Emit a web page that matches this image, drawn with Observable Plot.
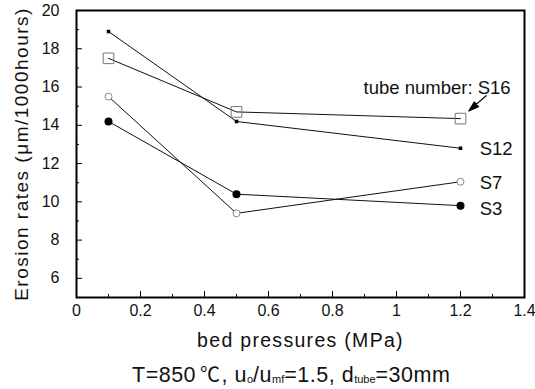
<!DOCTYPE html>
<html>
<head>
<meta charset="utf-8">
<script src="https://cdn.jsdelivr.net/npm/d3@7"></script>
<script src="https://cdn.jsdelivr.net/npm/@observablehq/plot@0.6"></script>
<style>
  body { margin: 0; background: white; font-family: "Liberation Sans", Arial, sans-serif; }
  #chart svg { display: block; }
  .cap { width: 535px; white-space: nowrap; padding-left: 132px; box-sizing: border-box; font-size: 21.5px; line-height: 24px; color: #111; margin-top: 6px; letter-spacing: 0.5px; }
  .cap sub { font-size: 11px; vertical-align: baseline; position: relative; top: 1px; letter-spacing: 0; }
  .cap .deg { font-family: "Noto Sans CJK SC", sans-serif; font-size: 20px; margin-left: 4px; margin-right: 1px; }
</style>
</head>
<body>
<div id="chart"></div>
<div class="cap">T=850<span class="deg">℃</span>, u<sub>o</sub>/u<sub>mf</sub>=1.5, d<sub>tube</sub>=30mm</div>
<script>
const pressures = [0.1, 0.5, 1.2];
const seriesNames = ["S16", "S12", "S7", "S3"];
const s16 = [17.5, 14.7, 14.35];
const s12 = [18.9, 14.2, 12.8];
const s7 = [15.5, 9.4, 11.05];
const s3 = [14.2, 10.4, 9.8];
const xTicks = [0, 0.2, 0.4, 0.6, 0.8, 1, 1.2, 1.4];
const xTickLabels = ["0", "0.2", "0.4", "0.6", "0.8", "1", "1.2", "1.4"];
const xMinor = [0.1, 0.3, 0.5, 0.7, 0.9, 1.1, 1.3];
const yTicks = [6, 8, 10, 12, 14, 16, 18, 20];
const yMinor = [7, 9, 11, 13, 15, 17, 19];
const xTitle = "bed pressures (MPa)";
const yTitle = "Erosion rates (μm/1000hours)";
const labelText = ["tube number: S16", "S12", "S7", "S3"];
const labelX = [0.897, 1.26, 1.26, 1.26];
const labelY = [15.95, 12.75, 11.0, 9.6];
const arrowTip = {x: 1.226, y: 14.75};

const valuesBySeries = {S16: s16, S12: s12, S7: s7, S3: s3};
const data = seriesNames.flatMap(s => pressures.map((p, i) => ({series: s, x: p, y: valuesBySeries[s][i]})));
const labels = labelText.map((t, i) => ({t, x: labelX[i], y: labelY[i]}));
const by = s => data.filter(d => d.series === s);

const arrowShape = {
  draw(context, l) {
    context.moveTo(0, 0);
    context.lineTo(0, -l + 8);
    context.moveTo(0, -l);
    context.lineTo(-3.2, -l + 10);
    context.lineTo(3.2, -l + 10);
    context.closePath();
  }
};

const font = "Liberation Sans, Arial, sans-serif";
const chart = Plot.plot({
  width: 535,
  height: 356,
  marginLeft: 76,
  marginRight: 11,
  marginTop: 10,
  marginBottom: 59,
  style: {fontFamily: font, color: "#111", background: "white"},
  x: {domain: [0, 1.4]},
  y: {domain: [5, 20]},
  marks: [
    Plot.axisX(xTicks, {tickSize: 0, tickPadding: 7, fontSize: 16, tickFormat: (d, i) => xTickLabels[i], label: null}),
    Plot.axisY(yTicks, {tickSize: 0, tickPadding: 17, fontSize: 16, label: null}),
    Plot.text([xTitle], {frameAnchor: "bottom", dy: 43, text: d => d, fontSize: 19.5, textAnchor: "middle", lineAnchor: "middle", fill: "#111"}),
    Plot.text([yTitle], {frameAnchor: "left", dx: -55, rotate: -90, text: d => d, fontSize: 19, textAnchor: "middle", lineAnchor: "middle", fill: "#111"}),
    Plot.ruleX(xTicks.slice(1, -1), {y1: 5, y2: 5 + 6 / 19.05, stroke: "black", strokeWidth: 1}),
    Plot.ruleX(xMinor, {y1: 5, y2: 5 + 3 / 19.05, stroke: "black", strokeWidth: 1}),
    Plot.ruleY(yTicks.slice(0, -1), {x1: 0, x2: 6 / 320, stroke: "black", strokeWidth: 1}),
    Plot.ruleY(yMinor, {x1: 0, x2: 3 / 320, stroke: "black", strokeWidth: 1}),
    Plot.line(data, {x: "x", y: "y", z: "series", stroke: "#111", strokeWidth: 1}),
    Plot.dot(by("S16"), {x: "x", y: "y", symbol: "square", r: 6, stroke: "#777", strokeWidth: 1, fill: "none"}),
    Plot.dot(by("S12"), {x: "x", y: "y", symbol: "square", r: 2, fill: "black", stroke: "none"}),
    Plot.dot(by("S7"), {x: "x", y: "y", r: 3.5, stroke: "#888", strokeWidth: 1, fill: "white"}),
    Plot.dot(by("S3"), {x: "x", y: "y", r: 4, fill: "black", stroke: "none"}),
    Plot.text(labels, {x: "x", y: "y", text: "t", textAnchor: "start", fontSize: 18.5, fill: "#111"}),
    Plot.vector([arrowTip], {x: "x", y: "y", length: 23, rotate: -131.4, anchor: "end", shape: arrowShape, stroke: "black", fill: "black", strokeWidth: 1.2}),
    Plot.frame({stroke: "black", strokeWidth: 2})
  ]
});
d3.select(chart).selectAll("text").each(function() {
  const t = this.textContent;
  if (t === xTitle) this.style.letterSpacing = "1.3px";
  if (t === yTitle) this.style.letterSpacing = "1.5px";
});
document.getElementById("chart").appendChild(chart);
</script>
</body>
</html>
